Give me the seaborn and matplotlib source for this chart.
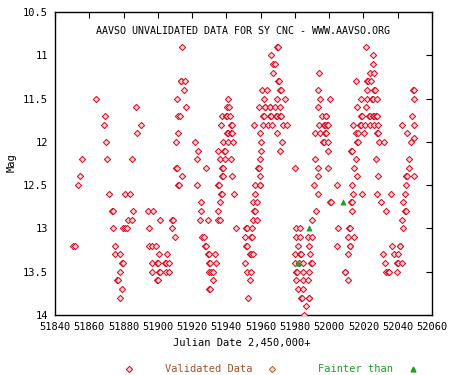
import numpy as np
import pandas as pd
import matplotlib
matplotlib.use("Agg")
import matplotlib.pyplot as plt
import seaborn as sns

sns.set_theme(style="white")
plt.rcParams["font.family"] = ["DejaVu Sans Mono"]

# validated observations (Julian Date - 2,450,000, magnitude), one line per row of a cluster
valid_jd = [
    51850.5, 51851.5,
    51853.6, 51854.8, 51856.0,
    51864.1,
    51868.8, 51869.2, 51869.6, 51870.5,
    51871.7, 51873.1, 51873.6, 51874.0,
    51875.2, 51875.2, 51876.0, 51876.5,
    51878.1, 51878.1, 51878.1, 51879.3, 51879.8, 51879.3,
    51879.9, 51881.0, 51881.8, 51880.8, 51884.0,
    51882.8, 51885.1, 51885.1, 51885.5,
    51887.3, 51888.0, 51890.2,
    # 51893 - 51911
    51894.1, 51897.4, 51901.4, 51908.1, 51908.6,
    51895.0, 51908.5, 51910.2,
    51894.9, 51896.8, 51898.8,
    51900.9, 51905.5,
    51896.8, 51899.7, 51900.2, 51904.4, 51904.9, 51906.7,
    51896.8, 51900.8, 51901.3, 51904.6, 51906.7,
    51899.8, 51900.3,
    # 51910 - 51917
    51914.3, 51913.3, 51913.8, 51916.0, 51915.5,
    51911.4, 51916.6, 51912.0, 51912.8, 51912.0,
    51910.8, 51910.5, 51911.3, 51914.3, 51911.6, 51912.1,
    # 51921 - 51934
    51921.9, 51923.6, 51923.0, 51928.3, 51923.0,
    51925.4, 51925.4, 51924.8, 51929.5,
    51926.0, 51927.0, 51927.5, 51928.0,
    51929.3, 51929.8, 51933.6,
    51929.8, 51930.3, 51934.1,
    51930.0, 51931.2, 51932.4, 51932.4,
    51929.8, 51930.3,
    # 51935 - 51946
    51941.1, 51940.5, 51941.7,
    51937.6, 51940.0, 51940.5, 51942.1,
    51936.9, 51942.5, 51943.0,
    51940.6, 51941.1, 51942.5, 51943.0,
    51938.2, 51941.1, 51944.0,
    51935.3, 51938.6, 51939.1,
    51936.5, 51939.2, 51942.5,
    51937.2, 51938.0,
    51937.4, 51938.0, 51943.5,
    51935.0, 51935.6,
    51936.8, 51937.3, 51944.6,
    51936.5, 51935.3, 51935.0, 51936.0, 51945.8,
    # 51950 - 51976
    51969.4, 51970.0, 51965.9, 51967.5, 51968.1, 51967.4,
    51970.0, 51970.6,
    51960.6, 51963.5, 51971.4, 51971.9,
    51962.0, 51969.7, 51974.4,
    51959.2, 51962.3, 51962.8, 51965.2, 51965.7, 51968.4, 51971.3,
    51961.3, 51961.8, 51965.7, 51966.2, 51969.2, 51969.7, 51971.1, 51971.6,
    51956.3, 51961.2, 51964.5, 51966.4, 51973.2, 51975.6,
    51959.6, 51969.4, 51960.2, 51972.6, 51960.2, 51971.3,
    51959.6, 51958.4, 51958.9, 51959.6,
    51956.7, 51959.4, 51959.9, 51956.7,
    51955.7, 51957.7, 51956.1, 51956.6, 51955.7, 51957.7,
    51951.7, 51952.2, 51954.8,
    51950.9, 51954.6, 51955.1,
    51951.7, 51952.2,
    51953.6, 51954.1, 51955.4,
    51950.9, 51951.9, 51954.2, 51953.8, 51952.8,
    # 51980 - 51991
    51980.1, 51980.6, 51983.0,
    51980.6, 51983.0, 51987.8, 51990.1,
    51982.0, 51988.2,
    51980.1, 51982.8, 51983.3, 51988.8,
    51980.1, 51982.6, 51984.9, 51989.4, 51989.9,
    51980.8, 51981.3, 51984.9, 51988.2,
    51980.6, 51984.9, 51987.8,
    51982.0, 51984.9,
    51983.8, 51984.3, 51988.0, 51988.5,
    51986.5, 51985.5,
    # 51989 - 52005
    51994.2, 51993.5, 51994.6, 52000.5, 51993.3,
    51995.6, 51997.9, 51998.4,
    51993.9, 51996.8, 51997.3, 51998.7, 51999.2,
    51991.7, 51994.6, 51997.4, 51997.9,
    51996.4, 51996.9, 51999.5, 51999.5,
    51991.9, 51993.3, 51999.6, 51993.3,
    51991.3, 52004.4, 51993.6,
    52000.7, 52001.2, 51992.5, 51989.8,
    52005.1, 52004.4,
    # 52008 - 52050
    52021.3, 52025.8, 52025.8, 52023.8, 52026.3,
    52015.5, 52022.0, 52022.5, 52024.4,
    52022.2, 52026.0, 52026.5, 52048.7, 52049.5,
    52018.6, 52022.2, 52025.0, 52025.5, 52027.7, 52049.7,
    52016.4, 52021.3,
    52018.8, 52019.3, 52023.2, 52023.7, 52025.6, 52026.1, 52027.5, 52028.0, 52048.5,
    52014.1, 52017.8, 52018.3, 52020.9, 52023.8, 52026.3, 52028.7, 52042.3, 52049.7,
    52015.5, 52017.0, 52020.5, 52027.9, 52028.4, 52045.6,
    52016.2, 52016.7, 52029.3, 52031.9, 52047.6, 52049.7,
    52012.9, 52013.4,
    52015.5, 52027.3, 52046.8, 52014.7, 52046.6,
    52016.4, 52028.7, 52045.0, 52045.5, 52049.7,
    52013.5, 52044.8,
    52014.1, 52019.0, 52027.7, 52036.1, 52044.3,
    52012.9, 52013.4, 52030.0, 52043.2,
    52013.1, 52033.0, 52044.1, 52044.6, 52042.3,
    52011.5, 52012.0, 52043.2,
    52011.1, 52014.7,
    52011.9, 52012.4, 52036.5, 52041.1, 52041.6,
    52011.1, 52031.5, 52037.8, 52040.3,
    52032.6, 52039.8, 52040.3, 52042.7,
    52009.0, 52009.5, 52033.0, 52034.3, 52034.8, 52039.4,
    52010.8,
]
valid_mag = [
    13.2, 13.2,
    12.5, 12.4, 12.2,
    11.5,
    11.8, 11.7, 12.0, 12.2,
    12.6, 12.8, 12.8, 13.0,
    13.2, 13.3, 13.6, 13.6,
    13.3, 13.5, 13.8, 13.4, 13.4, 13.7,
    13.0, 13.0, 13.0, 12.6, 12.6,
    12.9, 12.9, 12.2, 12.8,
    11.6, 11.9, 11.8,
    # 51893 - 51911
    12.8, 12.8, 12.9, 12.9, 12.9,
    13.0, 13.0, 13.1,
    13.2, 13.2, 13.2,
    13.3, 13.3,
    13.4, 13.4, 13.4, 13.4, 13.4, 13.4,
    13.5, 13.5, 13.5, 13.5, 13.5,
    13.6, 13.6,
    # 51910 - 51917
    10.9, 11.3, 11.3, 11.3, 11.4,
    11.5, 11.6, 11.7, 11.7, 11.9,
    12.0, 12.3, 12.3, 12.4, 12.5, 12.5,
    # 51921 - 51934
    12.0, 12.1, 12.2, 12.3, 12.5,
    12.7, 12.8, 12.9, 12.9,
    13.1, 13.1, 13.2, 13.2,
    13.3, 13.3, 13.3,
    13.4, 13.4, 13.4,
    13.5, 13.5, 13.5, 13.6,
    13.7, 13.7,
    # 51935 - 51946
    11.5, 11.6, 11.6,
    11.7, 11.7, 11.7, 11.7,
    11.8, 11.8, 11.8,
    11.9, 11.9, 11.9, 11.9,
    12.0, 12.0, 12.0,
    12.1, 12.1, 12.1,
    12.2, 12.2, 12.2,
    12.3, 12.3,
    12.4, 12.4, 12.4,
    12.5, 12.5,
    12.6, 12.6, 12.6,
    12.7, 12.8, 12.9, 12.9, 13.0,
    # 51950 - 51976
    10.9, 10.9, 11.0, 11.1, 11.1, 11.2,
    11.3, 11.3,
    11.4, 11.4, 11.4, 11.4,
    11.5, 11.5, 11.5,
    11.6, 11.6, 11.6, 11.6, 11.6, 11.6, 11.6,
    11.7, 11.7, 11.7, 11.7, 11.7, 11.7, 11.7, 11.7,
    11.8, 11.8, 11.8, 11.8, 11.8, 11.8,
    11.9, 11.9, 12.0, 12.0, 12.1, 12.1,
    12.2, 12.3, 12.3, 12.4,
    12.5, 12.5, 12.5, 12.6,
    12.7, 12.7, 12.8, 12.8, 12.9, 12.9,
    13.0, 13.0, 13.0,
    13.1, 13.1, 13.1,
    13.2, 13.2,
    13.3, 13.3, 13.3,
    13.4, 13.5, 13.5, 13.6, 13.8,
    # 51980 - 51991
    12.3, 13.0, 13.0,
    13.1, 13.1, 13.1, 13.1,
    13.2, 13.2,
    13.3, 13.3, 13.3, 13.3,
    13.4, 13.4, 13.4, 13.4, 13.4,
    13.5, 13.5, 13.5, 13.5,
    13.6, 13.6, 13.6,
    13.7, 13.7,
    13.8, 13.8, 13.8, 13.8,
    13.9, 14.0,
    # 51989 - 52005
    11.2, 11.4, 11.5, 11.5, 11.6,
    11.7, 11.7, 11.7,
    11.8, 11.8, 11.8, 11.8, 11.8,
    11.9, 11.9, 11.9, 11.9,
    12.0, 12.0, 12.0, 12.1,
    12.2, 12.3, 12.3, 12.4,
    12.5, 12.5, 12.6,
    12.7, 12.7, 12.8, 12.9,
    13.0, 13.2,
    # 52008 - 52050
    10.9, 11.0, 11.1, 11.2, 11.2,
    11.3, 11.3, 11.3, 11.3,
    11.4, 11.4, 11.4, 11.4, 11.4,
    11.5, 11.5, 11.5, 11.5, 11.5, 11.5,
    11.6, 11.6,
    11.7, 11.7, 11.7, 11.7, 11.7, 11.7, 11.7, 11.7, 11.7,
    11.8, 11.8, 11.8, 11.8, 11.8, 11.8, 11.8, 11.8, 11.8,
    11.9, 11.9, 11.9, 11.9, 11.9, 11.9,
    12.0, 12.0, 12.0, 12.0, 12.0, 11.95,
    12.1, 12.1,
    12.2, 12.2, 12.2, 12.3, 12.3,
    12.4, 12.4, 12.4, 12.4, 12.4,
    12.5, 12.5,
    12.6, 12.6, 12.6, 12.6, 12.6,
    12.7, 12.7, 12.7, 12.7,
    12.8, 12.8, 12.8, 12.8, 12.9,
    13.0, 13.0, 13.0,
    13.1, 13.1,
    13.2, 13.2, 13.2, 13.2, 13.2,
    13.3, 13.3, 13.3, 13.3,
    13.4, 13.4, 13.4, 13.4,
    13.5, 13.5, 13.5, 13.5, 13.5, 13.5,
    13.6,
]

# "fainter than" estimates
fainter_jd = [51982.0, 51988.4, 52008.2]
fainter_mag = [13.4, 13.0, 12.7]

x_ticks = [51840, 51860, 51880, 51900, 51920, 51940, 51960, 51980, 52000, 52020, 52040, 52060]
y_ticks = [10.5, 11, 11.5, 12, 12.5, 13, 13.5, 14]
y_tick_labels = ["10.5", "11", "11.5", "12", "12.5", "13", "13.5", "14"]

valid_df = pd.DataFrame({"jd": valid_jd, "mag": valid_mag})
fainter_df = pd.DataFrame({"jd": fainter_jd, "mag": fainter_mag})

red = "#d81025"
green = "#20a020"

fig = plt.figure(figsize=(4.5, 3.75), dpi=100)
ax = fig.add_axes([55 / 450, 1 - 315 / 375, 377 / 450, 303 / 375])

sns.scatterplot(data=valid_df, x="jd", y="mag", ax=ax, marker="D", s=10,
                facecolor="#fbd4d8", edgecolor=red, linewidth=0.75, zorder=3)
sns.scatterplot(data=fainter_df, x="jd", y="mag", ax=ax, marker="^", s=14,
                color=green, edgecolor=green, linewidth=0.5, zorder=4)

ax.set_xlim(51840, 52060)
ax.set_ylim(14, 10.5)
ax.set_xticks(x_ticks)
ax.set_xticklabels([str(t) for t in x_ticks])
ax.set_yticks(y_ticks)
ax.set_yticklabels(y_tick_labels)
ax.tick_params(direction="in", length=4, width=0.8, color="black",
               top=True, right=True, labelsize=7.5, pad=5, labelcolor="black")
for sp in ax.spines.values():
    sp.set_color("black")
    sp.set_linewidth(1.0)
ax.set_xlabel("")
ax.set_ylabel("")

ax.text(0.5, 0.938, "AAVSO UNVALIDATED DATA FOR SY CNC - WWW.AAVSO.ORG",
        transform=ax.transAxes, ha="center", va="center", fontsize=7.2, color="black")

fig.text(242 / 450, 1 - 343 / 375, "Julian Date 2,450,000+", ha="center", va="center",
         fontsize=7.5, color="black")
fig.text(12 / 450, 1 - 163 / 375, "Mag", rotation=90, ha="center", va="center",
         fontsize=7.5, color="black")

# legend row along the bottom
leg_y = 1 - 369 / 375
fig.add_artist(plt.Line2D([129 / 450], [leg_y], marker="D", markersize=3.2,
                          markerfacecolor="#fbd4d8", markeredgecolor=red,
                          markeredgewidth=0.75, linestyle="none"))
fig.text(209 / 450, leg_y, "Validated Data", ha="center", va="center",
         fontsize=7.5, color="#a0522d")
fig.add_artist(plt.Line2D([272 / 450], [leg_y], marker="D", markersize=3.2,
                          markerfacecolor="#f3dccb", markeredgecolor="#b06a40",
                          markeredgewidth=0.75, linestyle="none"))
fig.text(356 / 450, leg_y, "Fainter than", ha="center", va="center",
         fontsize=7.5, color=green)
fig.add_artist(plt.Line2D([413 / 450], [leg_y], marker="^", markersize=3.5,
                          color=green, linestyle="none"))

fig.savefig("out.png", dpi=100)
